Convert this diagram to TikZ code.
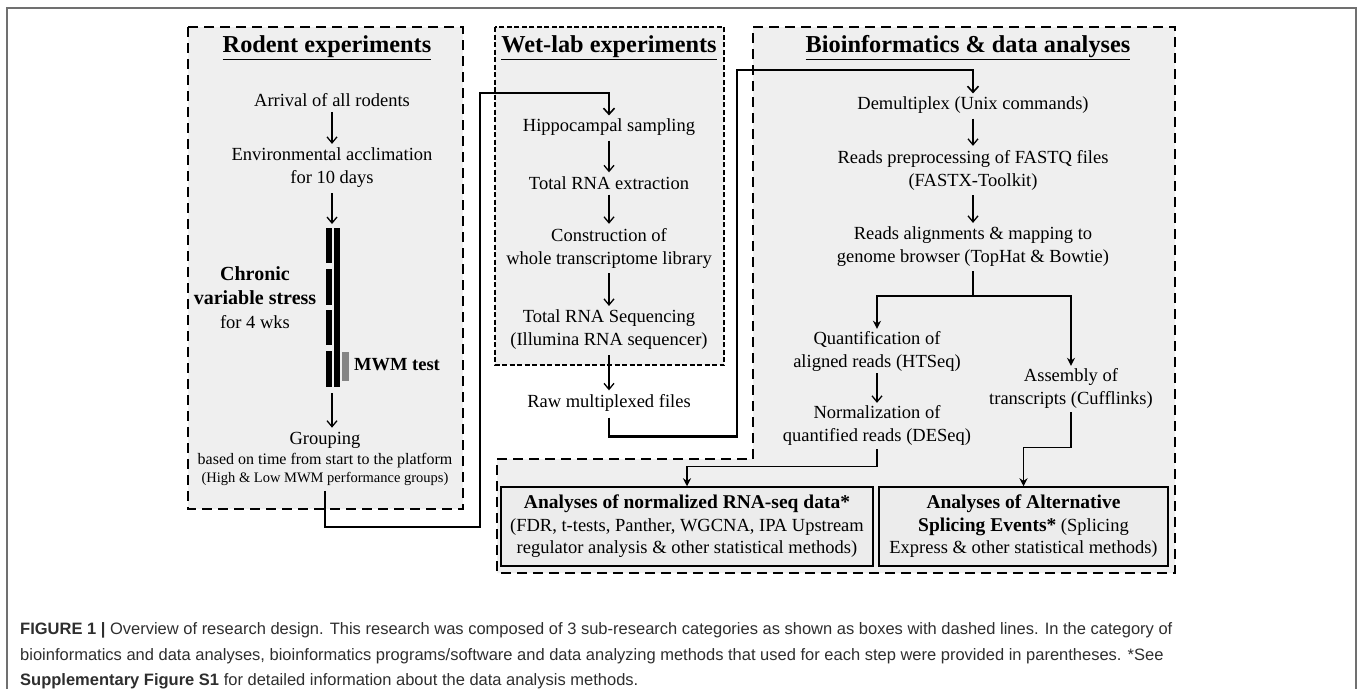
\documentclass[tikz,border=0pt]{standalone}
\usepackage{fontspec}
\setmainfont{Liberation Serif}
\newfontfamily\capfont{Liberation Sans}
\usetikzlibrary{arrows.meta}
\definecolor{boxgray}{HTML}{EFEFEF}
\definecolor{innergray}{HTML}{ECECEC}
\definecolor{framegray}{HTML}{707070}
\definecolor{capgray}{HTML}{2E2E2E}
\definecolor{mwmgray}{HTML}{858585}
\begin{document}
\begin{tikzpicture}[x=1pt,y=-1pt,
  txt/.style={font=\fontsize{18.5}{23}\selectfont, align=center, inner sep=0pt},
  ttl/.style={font=\fontsize{24.3}{28}\selectfont\bfseries, inner sep=0pt},
  dashA/.style={draw=black, line width=2.6pt, dash pattern=on 10pt off 6pt, fill=boxgray},
  dashB/.style={draw=black, line width=2pt, dash pattern=on 5pt off 2.5pt, fill=boxgray},
  flow/.style={line width=1.3pt, -{Straight Barb[length=6pt,width=10pt,line width=1.3pt]}, shorten <=5pt, shorten >=4pt},
  link/.style={line width=2.6pt, -{Straight Barb[length=6pt,width=11pt,line width=1.6pt]}},
  branch/.style={line width=1.3pt, -{Stealth[length=8pt,width=8pt]}},
  plain/.style={line width=1.3pt},
  outbox/.style={draw=black, line width=1.5pt, fill=innergray, inner sep=0pt, align=center, font=\fontsize{18.5}{22.5}\selectfont},
  captxt/.style={font=\capfont\fontsize{16.5}{20}\selectfont, text=capgray, anchor=west, inner sep=0pt},
]
\useasboundingbox (0,0) rectangle (1358,689);
% outer frame
\draw[framegray, line width=2pt] (7,689) -- (7,8) -- (1356,8) -- (1356,689);

% section boxes
\path[dashA] (188,27) rectangle (463,509);
\path[dashB] (495,27) rectangle (724,365);
\path[dashA] (753,27) -- (1175,27) -- (1175,573) -- (497,573) -- (497,459) -- (753,459) -- cycle;

% ---------- Rodent experiments ----------
\node[ttl] (tR) at (327,48) {\underline{Rodent experiments}};
\node[txt] (r1) at (332,100) {Arrival of all rodents};
\node[txt] (r2) at (332,168) {Environmental acclimation\\for 10 days};
\coordinate (bt) at (332,228);
\coordinate (bb) at (332,387);
% bars
\fill (326,228) rectangle (332,263);
\fill (326,269) rectangle (332,305);
\fill (326,310) rectangle (332,345);
\fill (326,351) rectangle (332,387);
\fill (333.5,228) rectangle (339.5,387);
\fill[mwmgray] (342,352) rectangle (349,381);
\node[txt, font=\fontsize{20}{24}\selectfont] (cvs) at (255,298) {\textbf{Chronic}\\\textbf{variable stress}\\{\fontsize{18.5}{23}\selectfont for 4 wks}};
\node[inner sep=0pt, font=\fontsize{18.5}{22}\selectfont\bfseries] (mwm) at (397,365) {MWM test};
\node[txt] (g1) at (325,440) {Grouping};
\node[txt, font=\fontsize{16}{19}\selectfont] (g2) at (325,461) {based on time from start to the platform};
\node[txt, font=\fontsize{14.5}{17}\selectfont] (g3) at (325,479) {(High \& Low MWM performance groups)};
\draw[flow] (r1.south) -- (r2.north);
\draw[flow] (r2.south) -- (bt);
\draw[flow, shorten <=6pt] (bb) -- (bb |- g1.north);

% ---------- Wet-lab experiments ----------
\node[ttl] (tW) at (609,48) {\underline{Wet-lab experiments}};
\node[txt] (w1) at (609,127) {Hippocampal sampling};
\node[txt] (w2) at (609,183) {Total RNA extraction};
\node[txt] (w3) at (609,248) {Construction of\\whole transcriptome library};
\node[txt] (w4) at (609,330) {Total RNA Sequencing\\(Illumina RNA sequencer)};
\node[txt] (w5) at (609,403) {Raw multiplexed files};
\draw[flow] (w1.south) -- (w2.north);
\draw[flow] (w2.south) -- (w3.north);
\draw[flow] (w3.south) -- (w4.north);
\draw[flow] (w4.south) -- (w5.north);

% ---------- Bioinformatics ----------
\node[ttl] (tB) at (968,48) {\underline{Bioinformatics \& data analyses}};
\node[txt] (d1) at (973,105) {Demultiplex (Unix commands)};
\node[txt] (d2) at (973,170) {Reads preprocessing of FASTQ files\\(FASTX-Toolkit)};
\node[txt] (d3) at (973,247) {Reads alignments \& mapping to\\genome browser (TopHat \& Bowtie)};
\node[txt] (q1) at (877,351) {Quantification of\\aligned reads (HTSeq)};
\node[txt] (q2) at (877,425) {Normalization of\\quantified reads (DESeq)};
\node[txt] (a1) at (1071,388) {Assembly of\\transcripts (Cufflinks)};
\node[outbox, minimum width=372pt, minimum height=79pt] (o1) at (687,526.5)
  {\textbf{\fontsize{19.5}{22.5}\selectfont Analyses of normalized RNA-seq data*}\\(FDR, t-tests, Panther, WGCNA, IPA Upstream\\regulator analysis \& other statistical methods)};
\node[outbox, minimum width=289pt, minimum height=79pt] (o2) at (1023.5,526.5)
  {\textbf{\fontsize{19.5}{22.5}\selectfont Analyses of Alternative}\\\textbf{\fontsize{19.5}{22.5}\selectfont Splicing Events*} (Splicing\\Express \& other statistical methods)};
\draw[flow] (d1.south) -- (d2.north);
\draw[flow] (d2.south) -- (d3.north);
\draw[plain] ([yshift=-4pt]d3.south) -- ++(0,25) coordinate (br);
\draw[branch] (br) -| ([yshift=2pt]q1.north);
\draw[branch] (br) -| ([yshift=2pt]a1.north);
\draw[flow, shorten <=2pt, shorten >=2pt] (q1.south) -- (q2.north);
\draw[branch] ([yshift=-4pt]q2.south) -- ++(0,17) -| (o1.north);
\draw[branch] ([yshift=-4pt]a1.south) -- ++(0,35) -| (o2.north);

% ---------- links between sections ----------
\draw[link] ([yshift=-5pt]g3.south) -- ++(0,36) -| (480,93) -| ([yshift=3pt]w1.north);
\draw[link] ([yshift=-6pt]w5.south) -- ++(0,19) -| (737,70) -| ([yshift=3pt]d1.north);

% ---------- caption ----------
\node[captxt] (cap1) at (20,630) {\textbf{FIGURE 1 |} Overview of research design. This research was composed of 3 sub-research categories as shown as boxes with dashed lines. In the category of};
\node[captxt] (cap2) at (20,656) {bioinformatics and data analyses, bioinformatics programs/software and data analyzing methods that used for each step were provided in parentheses. *See};
\node[captxt] (cap3) at (20,681) {\textbf{Supplementary Figure S1} for detailed information about the data analysis methods.};
\end{tikzpicture}
\end{document}
